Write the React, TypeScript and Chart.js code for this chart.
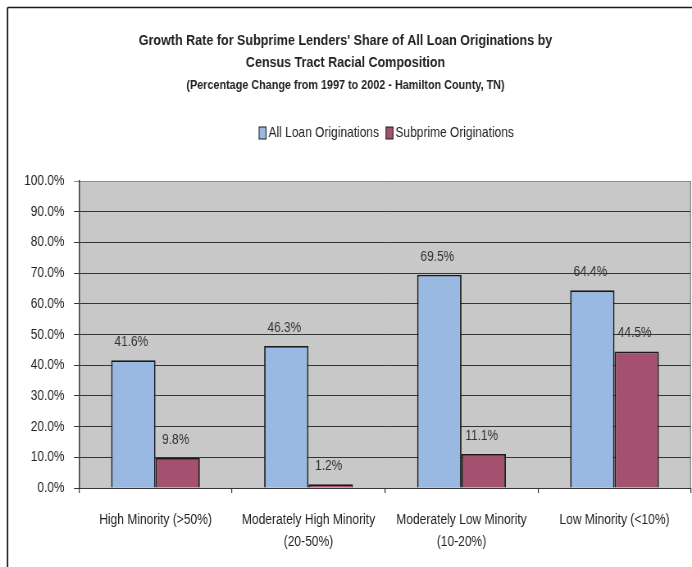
import React, { useEffect, useRef } from "react";
import { Chart, registerables } from "chart.js";

Chart.register(...registerables);

const categories: string[][] = [
  ["High Minority (>50%)"],
  ["Moderately High Minority", "(20-50%)"],
  ["Moderately Low Minority", "(10-20%)"],
  ["Low Minority (<10%)"],
];
const allLoanOriginations: number[] = [41.6, 46.3, 69.5, 64.4];
const subprimeOriginations: number[] = [9.8, 1.2, 11.1, 44.5];
const seriesNames: string[] = ["All Loan Originations", "Subprime Originations"];
const seriesColors: string[] = ["#99B9E2", "#A3516F"];
const titleLines: string[] = [
  "Growth Rate for Subprime Lenders' Share of All Loan Originations by",
  "Census Tract Racial Composition",
];
const subtitleText = "(Percentage Change from 1997 to 2002 - Hamilton County, TN)";

// The chart is drawn on a wider canvas and squeezed horizontally,
// which turns Liberation Sans into a narrow face like Arial Narrow.
const SQUEEZE = 0.82;
const VIEW_W = 692;
const VIEW_H = 567;
const CANVAS_W = Math.round(VIEW_W / SQUEEZE);
const sx = (px: number) => px / SQUEEZE;

const FONT = '"Liberation Sans", Arial, sans-serif';
const PLOT_BG = "#C8C8C8";
const GRID = "#353535";
const TEXT = "#222222";

// Gray plot background, right edge of the plot box and the outer frame.
const framePlugin = {
  id: "frame",
  beforeDraw(chart: any) {
    const { ctx, chartArea } = chart;
    ctx.save();
    ctx.fillStyle = PLOT_BG;
    ctx.fillRect(chartArea.left, chartArea.top, chartArea.right - chartArea.left, chartArea.bottom - chartArea.top);
    ctx.restore();
  },
  afterDraw(chart: any) {
    const { ctx, chartArea, width, height } = chart;
    ctx.save();
    ctx.strokeStyle = "#808080";
    ctx.lineWidth = sx(1);
    ctx.beginPath();
    ctx.moveTo(chartArea.right - sx(0.5), chartArea.top);
    ctx.lineTo(chartArea.right - sx(0.5), chartArea.bottom);
    ctx.stroke();
    ctx.strokeStyle = "#1a1a1a";
    ctx.lineWidth = 1.5;
    ctx.beginPath();
    ctx.moveTo(sx(7.5), 7.5);
    ctx.lineTo(width, 7.5);
    ctx.stroke();
    ctx.lineWidth = sx(1.5);
    ctx.beginPath();
    ctx.moveTo(sx(7.5), height);
    ctx.lineTo(sx(7.5), 7.5);
    ctx.stroke();
    ctx.restore();
  },
};

// Compact legend row: a slim swatch followed closely by its label.
const legendPlugin = {
  id: "compactLegend",
  afterDraw(chart: any) {
    const { ctx } = chart;
    const cy = 133;
    const boxW = sx(7);
    const boxH = 12;
    const gap = sx(2.5);
    const itemGap = sx(7);
    ctx.save();
    ctx.font = `14.6px ${FONT}`;
    const widths = chart.data.datasets.map((ds: any) => ctx.measureText(ds.label).width);
    const total =
      widths.reduce((a: number, w: number) => a + boxW + gap + w, 0) + itemGap * (widths.length - 1);
    let x = sx(386.5) - total / 2;
    chart.data.datasets.forEach((ds: any, i: number) => {
      ctx.fillStyle = ds.backgroundColor;
      ctx.fillRect(x, cy - boxH / 2, boxW, boxH);
      ctx.strokeStyle = "#1a1a1a";
      ctx.lineWidth = 1;
      ctx.strokeRect(x, cy - boxH / 2, boxW, boxH);
      x += boxW + gap;
      ctx.fillStyle = TEXT;
      ctx.textAlign = "left";
      ctx.textBaseline = "middle";
      ctx.fillText(ds.label, x, cy);
      x += widths[i] + itemGap;
    });
    ctx.restore();
  },
};

// Value labels above each bar.
const valueLabelPlugin = {
  id: "valueLabels",
  afterDatasetsDraw(chart: any) {
    const { ctx } = chart;
    ctx.save();
    ctx.font = `14.5px ${FONT}`;
    ctx.fillStyle = "#333333";
    ctx.textAlign = "center";
    ctx.textBaseline = "middle";
    chart.data.datasets.forEach((ds: any, di: number) => {
      const meta = chart.getDatasetMeta(di);
      meta.data.forEach((bar: any, i: number) => {
        const v = ds.data[i] as number;
        ctx.fillText(`${v.toFixed(1)}%`, bar.x - sx(2), bar.y - 18);
      });
    });
    ctx.restore();
  },
};

export default function App() {
  const canvasRef = useRef<HTMLCanvasElement | null>(null);

  useEffect(() => {
    if (!canvasRef.current) return;
    const chart = new Chart(canvasRef.current, {
      type: "bar",
      data: {
        labels: categories,
        datasets: [
          {
            label: seriesNames[0],
            data: allLoanOriginations,
            backgroundColor: seriesColors[0],
            borderColor: "#1a1a1a",
            borderWidth: 1.8,
          },
          {
            label: seriesNames[1],
            data: subprimeOriginations,
            backgroundColor: seriesColors[1],
            borderColor: "#1a1a1a",
            borderWidth: 1.8,
          },
        ],
      },
      options: {
        responsive: false,
        animation: false,
        devicePixelRatio: 1,
        datasets: {
          bar: { categoryPercentage: 0.58, barPercentage: 1 },
        },
        layout: { padding: { left: 0, right: sx(1), top: 0, bottom: 0 } },
        plugins: {
          title: {
            display: true,
            text: titleLines,
            color: TEXT,
            font: { family: FONT, size: 15.3, weight: "bold", lineHeight: 1.4 },
            padding: { top: 30.3, bottom: 4 },
          },
          subtitle: {
            display: true,
            text: subtitleText,
            color: TEXT,
            font: { family: FONT, size: 13.2, weight: "bold", lineHeight: 1.2 },
            padding: { top: 0, bottom: 88.1 },
          },
          legend: { display: false },
          tooltip: { enabled: false },
        },
        scales: {
          x: {
            afterFit(scale: any) {
              scale.height = VIEW_H - 488;
            },
            grid: {
              offset: true,
              drawOnChartArea: false,
              drawTicks: true,
              tickLength: 5,
              color: GRID,
              lineWidth: sx(1),
            },
            border: { display: true, color: GRID, width: 1 },
            ticks: {
              color: TEXT,
              font: { family: FONT, size: 14.7, lineHeight: 1.5 },
              padding: 16,
              maxRotation: 0,
              autoSkip: false,
            },
          },
          y: {
            min: 0,
            max: 100,
            afterFit(scale: any) {
              scale.width = sx(79);
            },
            grid: {
              color: (c: any) => (c.tick && c.tick.value === 100 ? "#8a8a8a" : GRID),
              lineWidth: 1,
              tickLength: sx(5),
            },
            border: { display: true, color: GRID, width: sx(1.2) },
            ticks: {
              stepSize: 10,
              color: TEXT,
              font: { family: FONT, size: 14.5 },
              padding: sx(9.5),
              callback: (v: any) => `${Number(v).toFixed(1)}%`,
            },
          },
        },
      },
      plugins: [framePlugin, valueLabelPlugin, legendPlugin],
    });
    return () => chart.destroy();
  }, []);

  return (
    <div
      style={{
        position: "absolute",
        left: 0,
        top: 0,
        width: VIEW_W,
        height: VIEW_H,
        overflow: "hidden",
        background: "#ffffff",
      }}
    >
      <div style={{ width: CANVAS_W, height: VIEW_H, transform: `scaleX(${VIEW_W / CANVAS_W})`, transformOrigin: "0 0" }}>
        <canvas ref={canvasRef} width={CANVAS_W} height={VIEW_H} style={{ display: "block" }} />
      </div>
    </div>
  );
}
